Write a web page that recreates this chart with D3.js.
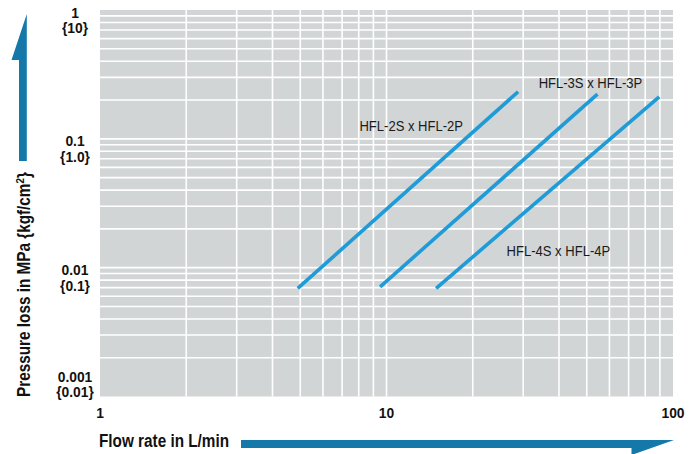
<!DOCTYPE html>
<html><head><meta charset="utf-8">
<script src="https://cdn.jsdelivr.net/npm/d3@7"></script>
<style>body{margin:0;background:#fff}svg{display:block}</style>
</head><body>
<svg id="chart" width="696" height="454"></svg>
<script>
// ---- data ----
const seriesNames = ["HFL-2S x HFL-2P", "HFL-3S x HFL-3P", "HFL-4S x HFL-4P"];
const flowStart = [4.9, 9.5, 14.9];        // L/min
const flowEnd = [28.8, 54.5, 89.5];        // L/min
const pressureStart = [0.0069, 0.0071, 0.0069]; // MPa
const pressureEnd = [0.232, 0.222, 0.212];      // MPa
const labelFlow = [12.2, 51.5, 39.8];
const labelPressure = [0.115, 0.248, 0.0123];
const xTickValues = [1, 10, 100];
const xTickLabels = ["1", "10", "100"];
const yTickValues = [1, 0.1, 0.01, 0.001];
const yTickMPa = ["1", "0.1", "0.01", "0.001"];
const yTickKgf = ["{10}", "{1.0}", "{0.1}", "{0.01}"];
const xTitle = "Flow rate in L/min";
const yTitle = "Pressure loss in MPa {kgf/cm";

// ---- layout ----
const pL = 100, pR = 673, pT = 10, pB = 396.5;
const svg = d3.select("#chart");
const x = d3.scaleLog().domain([1, 100]).range([pL, pR]);
const y = d3.scaleLog().domain([0.001, 1]).range([pB, pT]);
const font = "'Liberation Sans', Arial, Helvetica, sans-serif";
const cond = (tx, ty, sx, rot) => `translate(${tx},${ty})${rot ? ` rotate(${rot})` : ""} scale(${sx},1)`;

svg.append("rect").attr("x", pL).attr("y", pT)
  .attr("width", pR - pL).attr("height", pB - pT).attr("fill", "#d2d5d6");

// minor + major grid
const xGrid = [];
[1, 10].forEach(d => { for (let k = 2; k <= 9; k++) xGrid.push(d * k); });
xGrid.push(10);
const yGrid = [];
[0.001, 0.01, 0.1].forEach(d => { for (let k = 2; k <= 9; k++) yGrid.push(+(d * k).toPrecision(3)); });
yGrid.push(0.01, 0.1);

svg.append("g").selectAll("line").data(xGrid).join("line")
  .attr("x1", d => x(d)).attr("x2", d => x(d))
  .attr("y1", pT).attr("y2", pB)
  .attr("stroke", "#fff").attr("stroke-width", 1.6);
svg.append("g").selectAll("line").data(yGrid).join("line")
  .attr("y1", d => y(d)).attr("y2", d => y(d))
  .attr("x1", pL).attr("x2", pR)
  .attr("stroke", "#fff").attr("stroke-width", 1.6);

// series lines
const series = seriesNames.map((n, i) => ({
  name: n,
  pts: [[flowStart[i], pressureStart[i]], [flowEnd[i], pressureEnd[i]]],
  lx: labelFlow[i], ly: labelPressure[i]
}));
const line = d3.line().x(d => x(d[0])).y(d => y(d[1]));
svg.append("g").selectAll("path").data(series).join("path")
  .attr("d", d => line(d.pts))
  .attr("fill", "none").attr("stroke", "#1f9cd8").attr("stroke-width", 3.6);

svg.append("g").selectAll("text").data(series).join("text")
  .attr("transform", d => cond(x(d.lx), y(d.ly), 0.87))
  .attr("text-anchor", "middle")
  .attr("font-family", font).attr("font-size", 15)
  .attr("fill", "#1a1a1a").text(d => d.name);

// x ticks
svg.append("g").selectAll("text").data(xTickValues).join("text")
  .attr("transform", d => cond(x(d), 418, 0.92))
  .attr("text-anchor", "middle").attr("font-family", font)
  .attr("font-weight", "bold").attr("font-size", 15).attr("fill", "#111")
  .text((d, i) => xTickLabels[i]);

// y ticks (two lines)
const yt = svg.append("g").selectAll("g").data(yTickValues).join("g")
  .attr("transform", d => cond(75, Math.min(y(d) + 7.5, pB - 15), 0.92));
yt.append("text").attr("text-anchor", "middle").attr("font-family", font)
  .attr("font-weight", "bold").attr("font-size", 15).attr("fill", "#111")
  .text((d, i) => yTickMPa[i]);
yt.append("text").attr("y", 15.5).attr("text-anchor", "middle").attr("font-family", font)
  .attr("font-weight", "bold").attr("font-size", 15).attr("fill", "#111")
  .text((d, i) => yTickKgf[i]);

// axis titles
svg.append("text").attr("transform", cond(99, 447, 0.865))
  .attr("font-family", font).attr("font-weight", "bold").attr("font-size", 17.7)
  .attr("fill", "#111").text(xTitle);

const yt2 = svg.append("text")
  .attr("transform", cond(29.5, 284.5, 0.865, -90))
  .attr("text-anchor", "middle")
  .attr("font-family", font).attr("font-weight", "bold").attr("font-size", 17.7)
  .attr("fill", "#111");
yt2.append("tspan").text(yTitle);
yt2.append("tspan").attr("dy", -6).attr("font-size", 11.5).text("2");
yt2.append("tspan").attr("dy", 6).text("}");

// arrows
const arrowColor = "#1478a9";
svg.append("path")
  .attr("d", "M26.8,14 L26.8,161 L19,161 L19,60 L11.5,60 Z")
  .attr("fill", arrowColor);
svg.append("path")
  .attr("d", "M241,440 L674,440 L631.5,455 L631.5,448 L241,448 Z")
  .attr("fill", arrowColor);
</script>
</body></html>
